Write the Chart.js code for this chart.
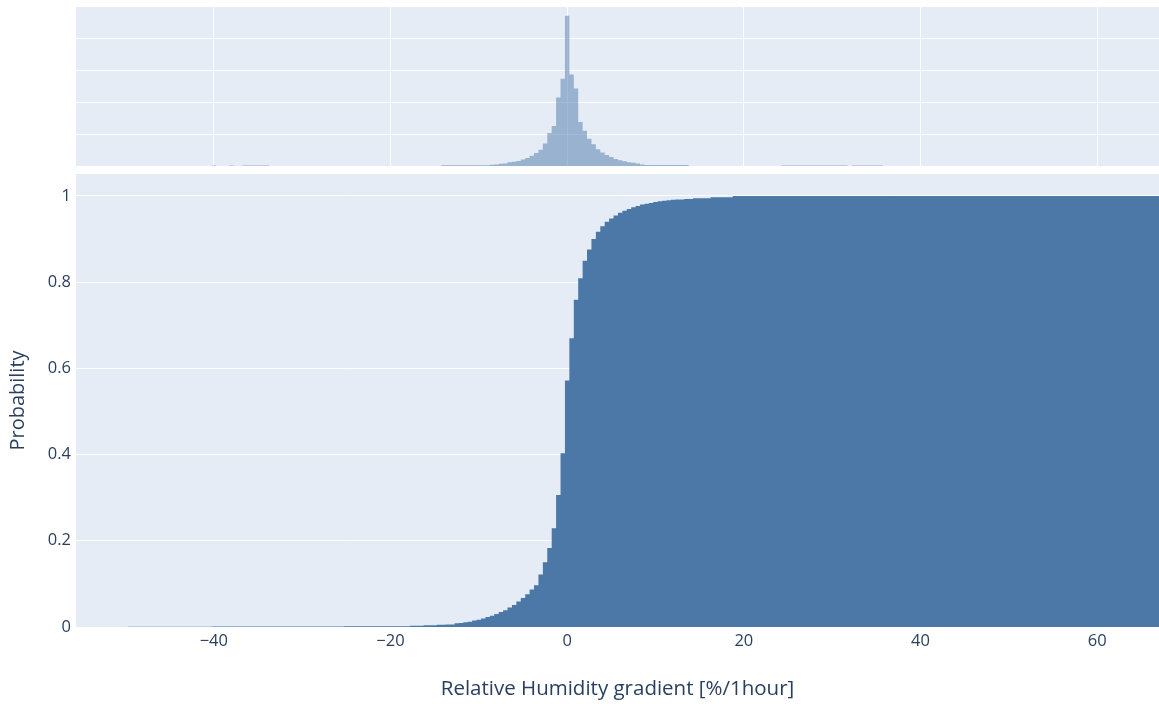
<!DOCTYPE html>
<html>
<head>
<meta charset="utf-8">
<script src="https://cdn.jsdelivr.net/npm/chart.js@4.4.0/dist/chart.umd.min.js"></script>
<style>
  html, body { margin: 0; padding: 0; background: #fff; }
  #wrap { position: relative; width: 1159px; height: 704px; }
  canvas { position: absolute; left: 0; }
  #hist { top: 0; }
  #cdf { top: 170px; }
</style>
</head>
<body>
<div id="wrap">
  <canvas id="hist" width="1159" height="170"></canvas>
  <canvas id="cdf" width="1159" height="534"></canvas>
</div>
<script>
// left bin edges (0.5 wide bins) and the cumulative probability of each bar
const cdfEdges = [-49.75, -40.25, -33.25, -25.25, -17.75, -16.25, -14.75, -13.75,
  -12.75, -12.25, -11.75, -11.25, -10.75, -10.25, -9.75, -9.25, -8.75, -8.25,
  -7.75, -7.25, -6.75, -6.25, -5.75, -5.25, -4.75, -4.25, -3.75, -3.25, -2.75,
  -2.25, -1.75, -1.25, -0.75, -0.25, 0.25, 0.75, 1.25, 1.75, 2.25, 2.75, 3.25,
  3.75, 4.25, 4.75, 5.25, 5.75, 6.25, 6.75, 7.25, 7.75, 8.25, 8.75, 9.25, 9.75,
  10.25, 10.75, 11.25, 11.75, 12.25, 13.25, 14.25, 16.25, 18.75, 67.5];
const cdfProb = [0.0006, 0.0009, 0.0012, 0.0016, 0.003, 0.004, 0.005, 0.006,
  0.0085, 0.009, 0.011, 0.012, 0.015, 0.017, 0.020, 0.023, 0.026, 0.030,
  0.035, 0.039, 0.045, 0.051, 0.059, 0.067, 0.076, 0.087, 0.097, 0.122, 0.150,
  0.183, 0.229, 0.306, 0.403, 0.572, 0.670, 0.759, 0.809, 0.850, 0.876, 0.900, 0.917,
  0.930, 0.940, 0.948, 0.955, 0.961, 0.966, 0.970, 0.974, 0.977, 0.980, 0.982, 0.984, 0.986,
  0.988, 0.989, 0.990, 0.991, 0.992, 0.993, 0.995, 0.997, 1.0, 1.0];

// marginal histogram (counts, arbitrary units = one gridline step)
const histEdges = [-40.25, -39.75, -38.25, -37.75, -36.75, -33.75, -14.25, -8.75,
  -8.25, -7.75, -7.25, -6.75, -6.25, -5.75, -5.25, -4.75, -4.25, -3.75, -3.25,
  -2.75, -2.25, -1.75, -1.25, -0.75, -0.25, 0.25, 0.75, 1.25, 1.75, 2.25, 2.75,
  3.25, 3.75, 4.25, 4.75, 5.25, 5.75, 6.25, 6.75, 7.25, 7.75, 8.25, 8.75, 13.75,
  24.25, 31.75, 32.25, 35.75];
const histCounts = [0.015, 0, 0.015, 0, 0.015, 0, 0.025, 0.04,
  0.05, 0.07, 0.08, 0.115, 0.135, 0.16, 0.20, 0.25, 0.32, 0.41, 0.51,
  0.70, 1.03, 1.25, 2.14, 2.73, 4.70, 2.86, 2.42, 1.375, 1.10, 0.85, 0.68,
  0.52, 0.42, 0.34, 0.28, 0.22, 0.18, 0.15, 0.12, 0.10, 0.08, 0.05, 0.03, 0,
  0.015, 0, 0.015, 0];

const xTicks = [-40, -20, 0, 20, 40, 60];
const probTicks = [0, 0.2, 0.4, 0.6, 0.8, 1];
const histTicks = [0, 1, 2, 3, 4];

const xRange = [-55.6, 67.0];
const ink = '#2a3f5f';
const plotBg = '#E5ECF6';
const blue = 'rgb(76,120,168)';

Chart.defaults.font.family = "'Open Sans', sans-serif";
Chart.defaults.color = ink;

const plotBgPlugin = {
  id: 'plotBg',
  beforeDraw(chart) {
    const a = chart.chartArea;
    const c = chart.ctx;
    c.save();
    c.fillStyle = plotBg;
    c.fillRect(a.left, a.top, a.right - a.left, a.bottom - a.top);
    c.restore();
  }
};

function fmt(v) {
  return v < 0 ? '\u2212' + Math.abs(v) : String(v);
}

// pin axis boxes so the plot areas line up between the two canvases
function fixX(h) {
  return s => { s.height = h; s.paddingLeft = 0; s.paddingRight = 0; };
}
function fixY(w) {
  return s => { s.width = w; s.paddingTop = 0; s.paddingBottom = 0; };
}

new Chart(document.getElementById('hist'), {
  type: 'line',
  data: {
    datasets: [{
      data: histEdges.map((x, i) => ({ x: x, y: histCounts[i] })),
      stepped: true,
      fill: 'origin',
      backgroundColor: 'rgba(76,120,168,0.5)',
      borderWidth: 0,
      pointRadius: 0,
    }]
  },
  options: {
    responsive: false,
    animation: false,
    layout: { padding: { top: 7, left: 0, right: 0, bottom: 0 } },
    plugins: { legend: { display: false }, tooltip: { enabled: false } },
    scales: {
      x: {
        type: 'linear', min: xRange[0], max: xRange[1],
        afterBuildTicks: s => { s.ticks = xTicks.map(v => ({ value: v })); },
        afterFit: fixX(4),
        ticks: { display: false },
        grid: { color: '#fff', lineWidth: 1, drawTicks: false },
        border: { display: false },
      },
      y: {
        min: 0, max: 4.97,
        afterBuildTicks: s => { s.ticks = histTicks.map(v => ({ value: v })); },
        afterFit: fixY(76),
        ticks: { display: false },
        grid: { color: '#fff', lineWidth: 1, drawTicks: false },
        border: { display: false },
      }
    }
  },
  plugins: [plotBgPlugin]
});

new Chart(document.getElementById('cdf'), {
  type: 'line',
  data: {
    datasets: [{
      data: cdfEdges.map((x, i) => ({ x: x, y: cdfProb[i] })),
      stepped: true,
      fill: 'origin',
      backgroundColor: blue,
      borderWidth: 0,
      pointRadius: 0,
    }]
  },
  options: {
    responsive: false,
    animation: false,
    layout: { padding: { top: 4, left: 0, right: 0, bottom: 0 } },
    plugins: { legend: { display: false }, tooltip: { enabled: false } },
    scales: {
      x: {
        type: 'linear', min: xRange[0], max: xRange[1],
        afterBuildTicks: s => { s.ticks = xTicks.map(v => ({ value: v })); },
        afterFit: fixX(77),
        ticks: { padding: 4, font: { size: 16.5 }, callback: v => fmt(v), maxRotation: 0 },
        grid: { display: false, drawTicks: false },
        border: { display: false },
        title: {
          display: true,
          text: 'Relative Humidity gradient [%/1hour]',
          font: { size: 20.5 },
          padding: { top: 0, bottom: 3 },
        }
      },
      y: {
        min: 0, max: 1.051,
        afterBuildTicks: s => { s.ticks = probTicks.map(v => ({ value: v })); },
        afterFit: fixY(76),
        ticks: { padding: 5, font: { size: 16.5 }, callback: v => String(v) },
        grid: { color: '#fff', lineWidth: 1, drawTicks: false },
        border: { display: false },
        title: {
          display: true,
          text: 'Probability',
          font: { size: 20 },
          padding: { top: 6, bottom: 0 },
        }
      }
    }
  },
  plugins: [plotBgPlugin]
});
</script>
</body>
</html>
